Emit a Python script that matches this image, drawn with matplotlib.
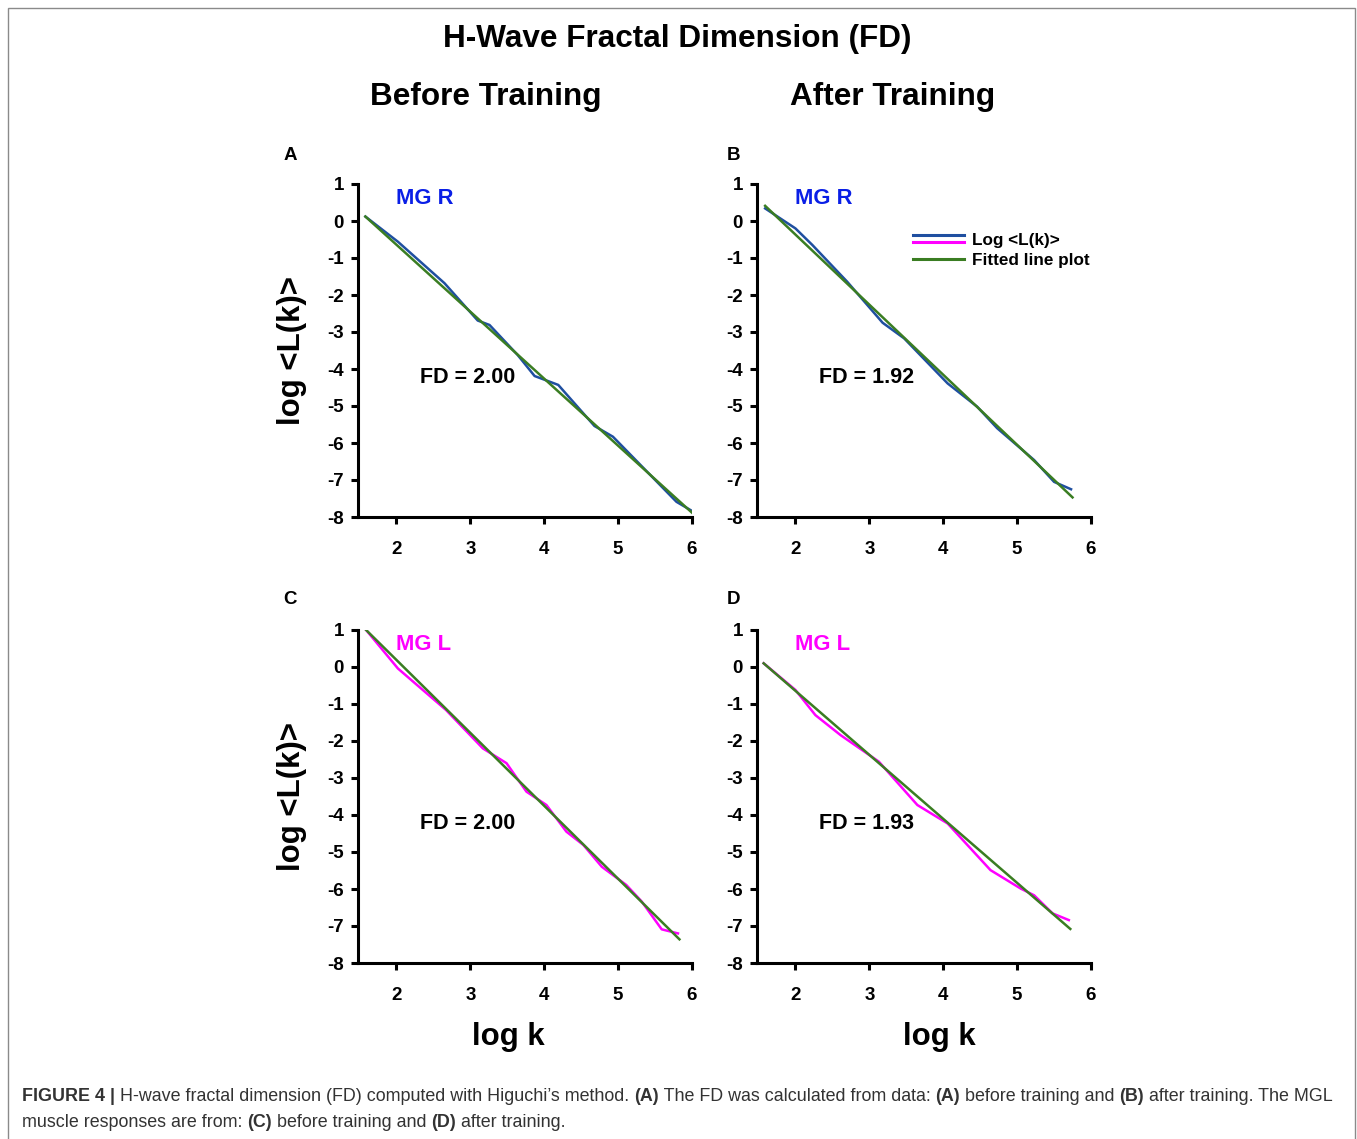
import matplotlib
matplotlib.use("Agg")
import matplotlib.pyplot as plt
from matplotlib.lines import Line2D
from matplotlib.patches import Rectangle
from matplotlib.legend_handler import HandlerBase

plt.rcParams["font.family"] = "Liberation Sans"
plt.rcParams["axes.unicode_minus"] = False

# ---- data (log k, log <L(k)>) ----
a_x = [1.58, 2.02, 2.65, 3.10, 3.26, 3.64, 3.87, 4.19, 4.68, 4.93, 5.79, 6.02]
a_y = [0.12, -0.56, -1.68, -2.69, -2.81, -3.62, -4.19, -4.43, -5.54, -5.83, -7.59, -7.86]
a_fit_x = [1.58, 6.02]
a_fit_y = [0.12, -7.92]

b_x = [1.59, 2.00, 2.23, 2.70, 3.18, 3.47, 4.06, 4.46, 4.73, 5.23, 5.50, 5.73]
b_y = [0.34, -0.20, -0.65, -1.64, -2.75, -3.17, -4.39, -5.02, -5.60, -6.46, -7.05, -7.25]
b_fit_x = [1.59, 5.75]
b_fit_y = [0.41, -7.47]

c_x = [1.59, 2.02, 2.31, 2.67, 3.17, 3.49, 3.76, 4.03, 4.30, 4.53, 4.78, 5.11, 5.32, 5.59, 5.81]
c_y = [1.00, -0.04, -0.54, -1.16, -2.20, -2.60, -3.37, -3.73, -4.45, -4.81, -5.40, -5.89, -6.34, -7.09, -7.20]
c_fit_x = [1.59, 5.83]
c_fit_y = [1.00, -7.36]

d_x = [1.57, 2.00, 2.27, 2.61, 3.13, 3.65, 4.06, 4.64, 5.05, 5.23, 5.48, 5.70]
d_y = [0.10, -0.62, -1.30, -1.84, -2.56, -3.73, -4.23, -5.49, -5.99, -6.17, -6.66, -6.84]
d_fit_x = [1.57, 5.72]
d_fit_y = [0.10, -7.08]

panels = [
    ("A", "MG R", a_x, a_y, a_fit_x, a_fit_y, "FD = 2.00"),
    ("B", "MG R", b_x, b_y, b_fit_x, b_fit_y, "FD = 1.92"),
    ("C", "MG L", c_x, c_y, c_fit_x, c_fit_y, "FD = 2.00"),
    ("D", "MG L", d_x, d_y, d_fit_x, d_fit_y, "FD = 1.93"),
]
x_ticks = [2, 3, 4, 5, 6]
y_ticks = [1, 0, -1, -2, -3, -4, -5, -6, -7, -8]

blue = "#1f4fa0"
magenta = "#ff00ff"
green = "#3a7d22"
label_colors = {"MG R": "#0a1fe6", "MG L": "#ff00ff"}

W, H = 1357, 1139
fig = plt.figure(figsize=(W / 100, H / 100), dpi=100)

# frame around the figure
fig.add_artist(Rectangle((8 / W, -0.01), 1347 / W, 1.01 - 8 / H,
                         transform=fig.transFigure, fill=False,
                         edgecolor="#8a8a8a", lw=1.0))

# pixel positions: axes top-left corner, panel letter, x label
positions = {"A": (358, 184), "B": (757, 184), "C": (358, 630), "D": (757, 630)}
letter_pos = {"A": (290, 156), "B": (734, 156), "C": (290, 599), "D": (734, 599)}
xlabel_pos = {"C": 508, "D": 939}
ax_w, ax_h = 334, 333


class TwoLines(HandlerBase):
    # legend key with blue and magenta lines stacked
    def create_artists(self, legend, orig, xd, yd, width, height, fontsize, trans):
        l1 = Line2D([xd, xd + width], [yd + height * 0.85] * 2, color=blue, lw=2.2, transform=trans)
        l2 = Line2D([xd, xd + width], [yd + height * 0.25] * 2, color=magenta, lw=2.2, transform=trans)
        return [l1, l2]


for letter, muscle, xs, ys, fx, fy, fd in panels:
    px, py = positions[letter]
    ax = fig.add_axes([px / W, 1 - (py + ax_h) / H, ax_w / W, ax_h / H])
    col = blue if muscle == "MG R" else magenta
    ax.plot(xs, ys, color=col, lw=1.8)
    ax.plot(fx, fy, color=green, lw=1.8)
    ax.set_xlim(1.48, 6.0)
    ax.set_ylim(-8, 1)
    ax.set_xticks(x_ticks)
    ax.set_yticks(y_ticks)
    for s in ["top", "right"]:
        ax.spines[s].set_visible(False)
    for s in ["left", "bottom"]:
        ax.spines[s].set_linewidth(2.2)
    ax.tick_params(axis="both", length=5, width=2.2, labelsize=13.5)
    ax.tick_params(axis="x", pad=12)
    ax.tick_params(axis="y", pad=5)
    for lab in ax.get_xticklabels() + ax.get_yticklabels():
        lab.set_fontweight("bold")
    ax.text(0.114, 0.955, muscle, transform=ax.transAxes, color=label_colors[muscle],
            fontsize=15.8, fontweight="bold", va="center", ha="left")
    ax.text(0.185, 0.42, fd, transform=ax.transAxes, fontsize=15.5,
            fontweight="bold", va="center", ha="left")
    lx, ly = letter_pos[letter]
    fig.text(lx / W, 1 - ly / H, letter, fontsize=13.5,
             fontweight="bold", ha="center", va="center")
    if letter in ("A", "C"):
        ax.set_ylabel("log <L(k)>", fontsize=22.5, fontweight="bold", labelpad=15)
    if letter in ("C", "D"):
        fig.text(xlabel_pos[letter] / W, 1 - 1037 / H, "log k", fontsize=22.5,
                 fontweight="bold", ha="center", va="center")
    if letter == "B":
        h1 = Line2D([], [], color=blue)
        h2 = Line2D([], [], color=green, lw=2.2)
        ax.legend([h1, h2], ["Log <L(k)>", "Fitted line plot"],
                  handler_map={h1: TwoLines()}, loc="upper left",
                  bbox_to_anchor=(0.42, 0.9), frameon=False,
                  prop={"weight": "bold", "size": 12.3},
                  handlelength=3.0, handletextpad=0.5, labelspacing=0.3)

fig.text(677 / W, 1 - 39 / H, "H-Wave Fractal Dimension (FD)", fontsize=22.7,
         fontweight="bold", ha="center", va="center")
fig.text(486 / W, 1 - 97 / H, "Before Training", fontsize=22.7,
         fontweight="bold", ha="center", va="center")
fig.text(893 / W, 1 - 97 / H, "After Training", fontsize=22.7,
         fontweight="bold", ha="center", va="center")

# caption with bold pieces
cap_lines = [
    [("FIGURE 4 | ", True), ("H-wave fractal dimension (FD) computed with Higuchi\u2019s method. ", False),
     ("(A)", True), (" The FD was calculated from data: ", False), ("(A)", True),
     (" before training and ", False), ("(B)", True), (" after training. The MGL", False)],
    [("muscle responses are from: ", False), ("(C)", True), (" before training and ", False),
     ("(D)", True), (" after training.", False)],
]
cap_y = [1101, 1127]
cap_texts = []
for line in cap_lines:
    row = []
    for txt, bold in line:
        row.append(fig.text(0, 0, txt, fontsize=12.9, color="#333333",
                            fontweight="bold" if bold else "normal",
                            va="baseline", ha="left"))
    cap_texts.append(row)

# place caption pieces one after another using the renderer
fig.canvas.draw()
r = fig.canvas.get_renderer()
for row, yy in zip(cap_texts, cap_y):
    x0 = 22
    for t in row:
        t.set_position((x0 / W, 1 - yy / H))
        x0 += t.get_window_extent(renderer=r).width

fig.savefig("out.png", dpi=100)
